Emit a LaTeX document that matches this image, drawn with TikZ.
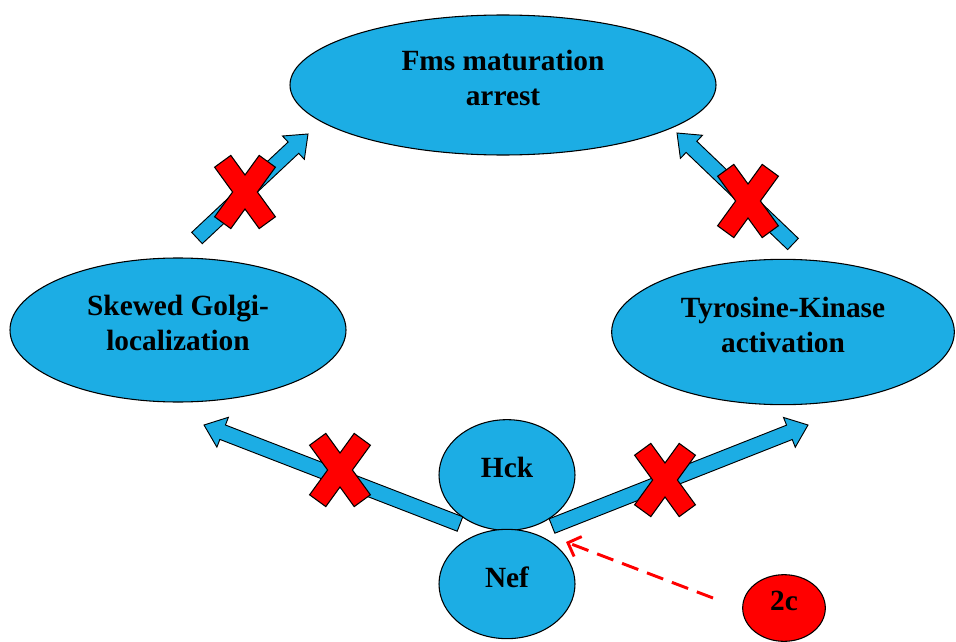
\documentclass[tikz,border=0pt]{standalone}
\usepackage{fontspec}
\setmainfont{Liberation Serif}
\usetikzlibrary{shapes.geometric}
\usetikzlibrary{calc}
\usetikzlibrary{arrows.meta}
\definecolor{cellblue}{HTML}{1CADE4}
\definecolor{stopred}{HTML}{FF0000}

\tikzset{
  state/.style={ellipse, draw=black, line width=0.8pt, fill=cellblue, inner sep=0pt,
    align=center, text depth=11pt, font=\bfseries\fontsize{22}{26}\selectfont},
  blockarr/.style={fill=cellblue, draw=black, line width=0.7pt, line join=miter},
  xmark/.style={fill=stopred, draw=black, line width=0.8pt, line join=miter},
  hint/.style={draw=stopred, line width=2.2pt, dash pattern=on 13pt off 7pt,
    -{Straight Barb[length=8pt,width=16pt]}}
}

% block arrow from #1 to #2
\newcommand{\blockarrow}[2]{%
  \coordinate (bh) at ($(#2)!15pt!(#1)$);
  \draw[blockarr] ($(#1)!5.8pt!90:(#2)$) -- ($(bh)!5.8pt!90:(#2)$)
    -- ($(bh)!12pt!90:(#2)$) -- (#2) -- ($(bh)!12pt!-90:(#2)$)
    -- ($(bh)!5.8pt!-90:(#2)$) -- ($(#1)!5.8pt!-90:(#2)$) -- cycle;
}
% red cross
\newcommand{\xcross}[1]{%
  \draw[xmark, shift={(#1)}] (0,-17) -- (14.2,-36.6) -- (30.4,-24.8) -- (12.4,0)
    -- (30.4,24.8) -- (14.2,36.6) -- (0,17) -- (-14.2,36.6) -- (-30.4,24.8)
    -- (-12.4,0) -- (-30.4,-24.8) -- (-14.2,-36.6) -- cycle;
}

\begin{document}
\begin{tikzpicture}[x=0.75pt, y=-0.75pt]
\useasboundingbox (0,0) rectangle (956,642);

\node[state, minimum width=319.5pt, minimum height=105pt] (fms) at (503,85) {Fms maturation\\arrest};
\node[state, minimum width=252pt, minimum height=108pt] (golgi) at (178,330) {Skewed Golgi-\\localization};
\node[state, minimum width=257pt, minimum height=109pt] (tk) at (783,332) {Tyrosine-Kinase\\activation};
\node[state, minimum width=102pt, minimum height=83pt] (hck) at (507,475) {Hck};
\node[state, minimum width=102pt, minimum height=82pt] (nef) at (507,584) {Nef};
\node[state, fill=stopred, minimum width=62pt, minimum height=50pt] (twoc) at (784,608) {2c};

\coordinate (ulTail) at (197,238);
\coordinate (ulTip) at (308,134);
\coordinate (urTail) at (793,244);
\coordinate (urTip) at (677,133);
\coordinate (llTail) at (460,524);
\coordinate (llTip) at (204,425);
\coordinate (lrTail) at (552,526);
\coordinate (lrTip) at (808,425);
\coordinate (dashStart) at (713,598);
\coordinate (dashEnd) at (566,542);

\blockarrow{ulTail}{ulTip}
\blockarrow{urTail}{urTip}
\blockarrow{llTail}{llTip}
\blockarrow{lrTail}{lrTip}

\xcross{245,192}
\xcross{748,201}
\xcross{340,470}
\xcross{665,480}

\draw[hint] (dashStart) -- (dashEnd);
\end{tikzpicture}
\end{document}
